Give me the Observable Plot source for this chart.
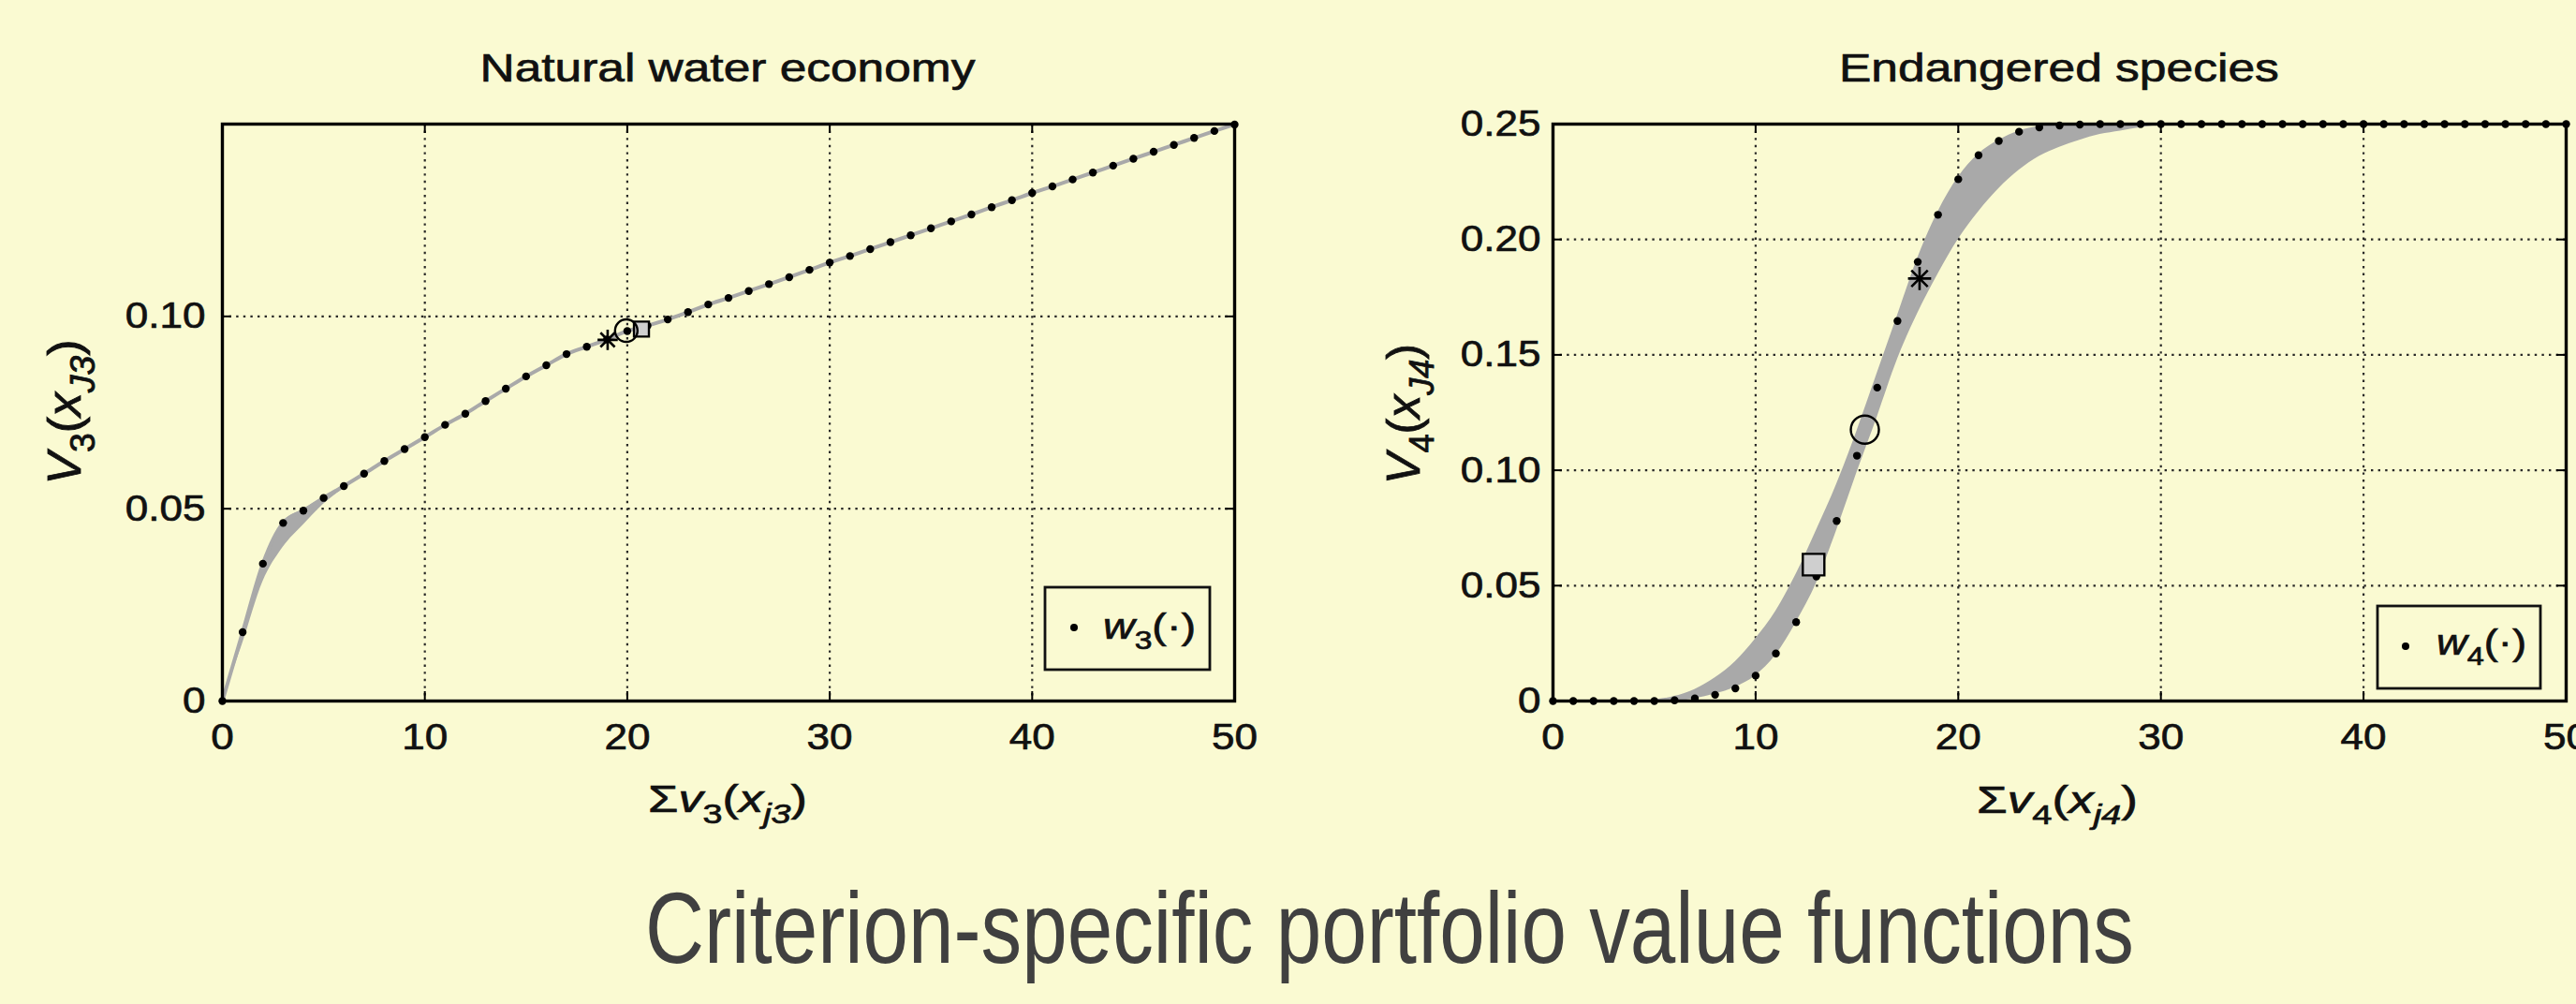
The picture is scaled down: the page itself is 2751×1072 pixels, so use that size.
<!DOCTYPE html>
<html><head><meta charset="utf-8">
<script src="https://cdn.jsdelivr.net/npm/d3@7"></script>
<script src="https://cdn.jsdelivr.net/npm/@observablehq/plot@0.6"></script>
<style>
html,body{margin:0;padding:0;background:#FAFAD2;}
#wrap{position:relative;width:2751px;height:1072px;overflow:hidden;background:#FAFAD2;}
</style></head><body><div id="wrap"></div>
<script>
// ---------- data ----------
const xGrid = [0,1,2,3,4,5,6,7,8,9,10,11,12,13,14,15,16,17,18,19,20,21,22,23,24,25,26,27,28,29,30,31,32,33,34,35,36,37,38,39,40,41,42,43,44,45,46,47,48,49,50];
const w3 = [0,0.0179,0.0357,0.0463,0.0495,0.0528,0.0559,0.0591,0.0624,0.0655,0.0686,0.0718,0.0747,0.0780,0.0812,0.0844,0.0873,0.0902,0.0921,0.0940,0.0962,0.0976,0.0992,0.1011,0.1031,0.1048,0.1066,0.1084,0.1102,0.1121,0.1140,0.1157,0.1175,0.1193,0.1211,0.1229,0.1247,0.1265,0.1284,0.1302,0.1321,0.1338,0.1356,0.1374,0.1392,0.1410,0.1428,0.1446,0.1464,0.1482,0.1499];
const band3X  = [0,1,2,3,4,5,6,7];
const band3Lo = [0,0.0150,0.0310,0.0400,0.0458,0.0512,0.0553,0.0588];
const band3Hi = [0,0.0182,0.0360,0.0465,0.0498,0.0530,0.0561,0.0593];
const w4 = [0,0,0,0,0,0,0.0003,0.0011,0.0027,0.0055,0.0110,0.0206,0.0342,0.0540,0.0780,0.1063,0.1358,0.1647,0.1903,0.2107,0.2261,0.2365,0.2427,0.2467,0.2486,0.2494,0.2498,0.25,0.25,0.25,0.25,0.25,0.25,0.25,0.25,0.25,0.25,0.25,0.25,0.25,0.25,0.25,0.25,0.25,0.25,0.25,0.25,0.25,0.25,0.25,0.25];
const band4X  = [4,5,6,7,8,9,10,11,12,13,14,15,16,17,18,19,20,21,22,23,24,25,26,27,28,29,30,31];
const band4Lo = [0,0,0,0.001,0.003,0.006,0.011,0.020,0.034,0.051,0.074,0.099,0.123,0.148,0.168,0.185,0.200,0.212,0.222,0.230,0.236,0.240,0.243,0.2455,0.247,0.2485,0.2495,0.25];
const band4Hi = [0,0.0005,0.002,0.005,0.010,0.017,0.027,0.039,0.055,0.074,0.094,0.117,0.142,0.167,0.192,0.212,0.227,0.237,0.243,0.247,0.249,0.2497,0.25,0.25,0.25,0.25,0.25,0.25];
const markSymbols = ["star","circle","square"];
const mark3X = [19.03,19.95,20.7];
const mark3Y = [0.0939,0.0963,0.0967];
const mark4X = [18.09,15.39,12.86];
const mark4Y = [0.1831,0.1176,0.0591];
const xTicks  = [0,10,20,30,40,50];
const y3Ticks = [0,0.05,0.10];
const y4Ticks = [0,0.05,0.10,0.15,0.20,0.25];
const titles = ["Natural water economy","Endangered species"];
const caption = "Criterion-specific portfolio value functions";

// ---------- layout ----------
const W = 2751, H = 1072;
const FONT = "'Liberation Sans', Arial, Helvetica, sans-serif";
const wrap = document.getElementById("wrap");
const FRAME_H = 616;

function makeChart(cfg) {
  const {left, width, mL, mR, yDomain, yTicks, yPad, w, bX, bLo, bHi, lineW, mX, mY, sq, ci, st} = cfg;
  const frameW = width - mL - mR;
  const pts = xGrid.map((x, i) => ({x, y: w[i]}));
  const band = bX.map((x, i) => ({x, lo: bLo[i], hi: bHi[i]}));
  const mk = mX.map((x, i) => ({x, y: mY[i], s: markSymbols[i]}));
  const star = mk.filter(d => d.s === "star");
  const fmt = d => d === 0 ? "0" : d.toFixed(2);
  const grid = {stroke: "#1e1e1e", strokeOpacity: 0.95, strokeWidth: 2.2, strokeDasharray: "2.4,5.2"};
  const tick = {stroke: "#000", strokeWidth: 2};
  const marks = [
    Plot.gridX(xTicks.filter(d => d > 0 && d < 50), grid),
    Plot.gridY(yTicks.filter(d => d > 0), grid),
    Plot.areaY(band, {x: "x", y1: "lo", y2: "hi", fill: "#a9a9a9", curve: "monotone-x"})
  ];
  if (lineW) marks.push(Plot.line(pts, {x: "x", y: "y", stroke: "#a9a9a9", strokeWidth: lineW, curve: "monotone-x"}));
  marks.push(
    Plot.dot(pts, {x: "x", y: "y", r: 4.2, fill: "#000"}),
    Plot.dot(mk.filter(d => d.s === "square"), {x: "x", y: "y", symbol: "square", r: sq, fill: "#cfcfcf", stroke: "#000", strokeWidth: 2.4}),
    Plot.dot(mk.filter(d => d.s === "circle"), {x: "x", y: "y", symbol: "circle", r: ci, fill: "none", stroke: "#000", strokeWidth: 2.4}),
    Plot.dot(star, {x: "x", y: "y", symbol: "plus", r: st, stroke: "#000", strokeWidth: 2.6}),
    Plot.dot(star, {x: "x", y: "y", symbol: "times", r: st, stroke: "#000", strokeWidth: 2.6}),
    Plot.ruleX(xTicks, {x: d => d, insetTop: FRAME_H - 10, ...tick}),
    Plot.ruleX(xTicks, {x: d => d, insetBottom: FRAME_H - 10, ...tick}),
    Plot.ruleY(yTicks, {y: d => d, insetRight: frameW - 10, ...tick}),
    Plot.ruleY(yTicks, {y: d => d, insetLeft: frameW - 10, ...tick}),
    Plot.frame({stroke: "#000", strokeWidth: 3.4}),
    Plot.axisX(xTicks, {tickSize: 0, tickPadding: 24, fontSize: 39, label: null, tickFormat: d => String(d)}),
    Plot.axisY(yTicks, {tickSize: 0, tickPadding: yPad, fontSize: 39, label: null, tickFormat: fmt})
  );
  const svg = Plot.plot({
    width, height: 860,
    marginLeft: mL, marginRight: mR, marginTop: 132, marginBottom: 112,
    x: {domain: [0, 50], label: null},
    y: {domain: yDomain, label: null},
    style: {background: "transparent", fontFamily: FONT, fontSize: "39px", color: "#111"},
    marks
  });
  svg.style.position = "absolute";
  svg.style.left = left + "px";
  svg.style.top = "0px";
  svg.style.maxWidth = "none";
  svg.style.overflow = "visible";
  svg.querySelectorAll('[aria-label$="tick label"] text').forEach(t => {
    const tr = t.getAttribute("transform") || "";
    t.setAttribute("transform", tr + " scale(1.13,1)");
    t.setAttribute("stroke", "#111");
    t.setAttribute("stroke-width", "0.7");
  });
  wrap.appendChild(svg);
  return svg;
}

makeChart({left: 0, width: 1380, mL: 237, mR: 62, yDomain: [0, 0.15], yTicks: y3Ticks, yPad: 18,
  w: w3, bX: band3X, bLo: band3Lo, bHi: band3Hi, lineW: 4, mX: mark3X, mY: mark3Y, sq: 9, ci: 12, st: 7});
makeChart({left: 1380, width: 1371, mL: 278, mR: 11, yDomain: [0, 0.25], yTicks: y4Ticks, yPad: 13,
  w: w4, bX: band4X, bLo: band4Lo, bHi: band4Hi, lineW: 0, mX: mark4X, mY: mark4Y, sq: 13, ci: 15, st: 8});

// ---------- overlay texts ----------
const ov = d3.create("svg").attr("width", W).attr("height", H)
  .style("position", "absolute").style("left", "0px").style("top", "0px").style("pointer-events", "none");
wrap.appendChild(ov.node());

function rich(segs, size, fill = "#111", sw = 0.7) {
  const t = ov.append("text").attr("font-size", size).attr("font-family", FONT).attr("fill", fill)
    .attr("stroke", fill).attr("stroke-width", sw).attr("text-anchor", "start");
  let shift = 0;
  for (const s of segs) {
    const ts = t.append("tspan").text(s.t);
    if (s.i) ts.attr("font-style", "italic");
    const target = s.sub ? size * 0.3 : 0;
    if (s.sub) ts.attr("font-size", size * 0.72);
    if (target !== shift) { ts.attr("dy", target - shift); shift = target; }
  }
  return t;
}
function hText(segs, size, cx, base, width, fill, sw) {
  const t = rich(segs, size, fill, sw);
  const bb = t.node().getBBox();
  const s = width / bb.width;
  t.attr("transform", `translate(${cx},${base}) scale(${s},1) translate(${-(bb.x + bb.width / 2)},0)`);
}
function vText(segs, size, bx, cy, len, cross) {
  const t = rich(segs, size);
  const bb = t.node().getBBox();
  const s = len / bb.width;
  t.attr("transform", `translate(${bx},${cy}) rotate(-90) scale(${s},${cross}) translate(${-(bb.x + bb.width / 2)},0)`);
}
function lText(segs, size, x0, base, width) {
  const t = rich(segs, size);
  const bb = t.node().getBBox();
  const s = width / bb.width;
  t.attr("transform", `translate(${x0},${base}) scale(${s},1) translate(${-bb.x},0)`);
}

// titles
hText([{t: titles[0]}], 42, 777, 87, 529);
hText([{t: titles[1]}], 42, 2199, 87, 470);
// x labels
hText([{t: "Σ"}, {t: "v", i: 1}, {t: "3", sub: 1}, {t: "("}, {t: "x", i: 1}, {t: "j3", sub: 1, i: 1}, {t: ")"}], 41, 777, 867, 170);
hText([{t: "Σ"}, {t: "v", i: 1}, {t: "4", sub: 1}, {t: "("}, {t: "x", i: 1}, {t: "j4", sub: 1, i: 1}, {t: ")"}], 41, 2197, 868, 172);
// y labels
vText([{t: "V", i: 1}, {t: "3", sub: 1}, {t: "("}, {t: "x", i: 1}, {t: "J3", sub: 1, i: 1}, {t: ")"}], 42, 86, 440, 155, 1.2);
vText([{t: "V", i: 1}, {t: "4", sub: 1}, {t: "("}, {t: "x", i: 1}, {t: "J4", sub: 1, i: 1}, {t: ")"}], 42, 1516, 442, 150, 1.2);
// legends
const legends = [
  {x0: 1116, y0: 627, x1: 1292, y1: 715, dx: 1147, dy: 670, tx: 1178, tb: 682, tw: 99, sub: "3"},
  {x0: 2539, y0: 647, x1: 2713, y1: 735, dx: 2569, dy: 690, tx: 2602, tb: 699, tw: 96, sub: "4"}
];
for (const L of legends) {
  ov.append("rect").attr("x", L.x0).attr("y", L.y0).attr("width", L.x1 - L.x0).attr("height", L.y1 - L.y0)
    .attr("fill", "none").attr("stroke", "#111").attr("stroke-width", 2.8);
  ov.append("circle").attr("cx", L.dx).attr("cy", L.dy).attr("r", 4).attr("fill", "#000");
  lText([{t: "w", i: 1}, {t: L.sub, sub: 1}, {t: "(·)"}], 38, L.tx, L.tb, L.tw);
}
// caption
hText([{t: caption}], 107, 1484, 1028, 1590, "#404040", 0);
</script>
</body></html>
